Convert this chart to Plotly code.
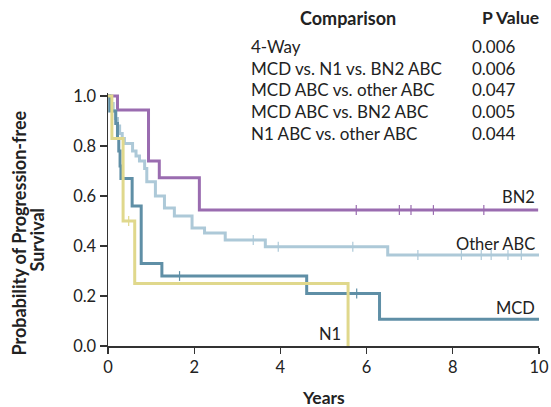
import plotly.graph_objects as go

# ---------------- data ----------------
bn2_times = [0.22, 0.94, 1.19, 2.12]
bn2_surv = [0.944, 0.74, 0.673, 0.544]
bn2_censor = [5.76, 6.76, 7.03, 7.55, 8.72]
bn2_end = 9.98

oth_times = [0.06, 0.12, 0.17, 0.22, 0.27, 0.33, 0.38, 0.57, 0.65, 0.73, 0.85, 0.90,
             1.10, 1.31, 1.54, 1.95, 2.24, 2.72, 3.65, 6.49]
oth_surv = [0.97, 0.94, 0.91, 0.88, 0.85, 0.83, 0.81, 0.78, 0.76, 0.74, 0.71, 0.657,
            0.60, 0.552, 0.52, 0.472, 0.452, 0.424, 0.397, 0.364]
oth_censor = [3.37, 3.95, 5.68, 7.19, 8.20, 8.66, 8.89, 9.28, 9.59]
oth_end = 10.0

mcd_times = [0.04, 0.18, 0.22, 0.25, 0.28, 0.30, 0.56, 0.77, 1.25, 4.61, 6.30]
mcd_surv = [0.94, 0.89, 0.83, 0.78, 0.72, 0.67, 0.56, 0.33, 0.28, 0.21, 0.107]
mcd_censor = [1.66, 5.77]
mcd_end = 10.0

n1_times = [0.09, 0.35, 0.62, 5.57]
n1_surv = [0.83, 0.50, 0.25, 0.0]
n1_censor = [0.48]
n1_end = 5.57

x_ticks = [0, 2, 4, 6, 8, 10]
y_ticks = [0.0, 0.2, 0.4, 0.6, 0.8, 1.0]
y_tick_labels = ["0.0", "0.2", "0.4", "0.6", "0.8", "1.0"]

comparisons = ["4-Way", "MCD vs. N1 vs. BN2 ABC", "MCD ABC vs. other ABC",
               "MCD ABC vs. BN2 ABC", "N1 ABC vs. other ABC"]
p_values = ["0.006", "0.006", "0.047", "0.005", "0.044"]

series = [
    ("BN2", bn2_times, bn2_surv, bn2_censor, bn2_end, "#9a6cb0"),
    ("Other ABC", oth_times, oth_surv, oth_censor, oth_end, "#adc9d8"),
    ("MCD", mcd_times, mcd_surv, mcd_censor, mcd_end, "#5f8fa6"),
    ("N1", n1_times, n1_surv, n1_censor, n1_end, "#e0d88c"),
]


def surv_at(t, times, surv):
    s = 1.0
    for ti, si in zip(times, surv):
        if ti <= t:
            s = si
    return s


FONT = "Lato"
TXT = "#222"
fig = go.Figure()

for name, times, surv, cens, end, color in series:
    xs = [0.0] + times + [end]
    ys = [1.0] + surv + [surv[-1]]
    fig.add_trace(go.Scatter(x=xs, y=ys, mode="lines", line=dict(color=color, width=3, shape="hv"),
                             name=name, showlegend=False, hoverinfo="skip"))
    fig.add_trace(go.Scatter(x=cens, y=[surv_at(c, times, surv) for c in cens], mode="markers",
                             marker=dict(symbol="line-ns", size=7, line=dict(color=color, width=1.2)),
                             showlegend=False, hoverinfo="skip", cliponaxis=False))

# Series labels
labels = [("BN2", 9.95, 0.597), ("Other ABC", 9.95, 0.41),
          ("MCD", 9.95, 0.153), ("N1", 5.46, 0.05)]
for txt, x, y in labels:
    fig.add_annotation(x=x, y=y, xref="x", yref="y", text=txt, showarrow=False,
                       xanchor="right", yanchor="middle", font=dict(family=FONT, size=16.5, color=TXT))

W, H = 551, 407
L, R, T, B = 108, 12, 93, 61
pw, ph = W - L - R, H - T - B


def px(xp):
    return (xp - L) / pw


def py(yp):
    return (H - B - yp) / ph


def ann(x, y, text, size, xa="center", angle=0):
    fig.add_annotation(x=px(x), y=py(y), xref="paper", yref="paper", text=text, showarrow=False,
                       xanchor=xa, yanchor="middle", textangle=angle,
                       font=dict(family=FONT, size=size, color=TXT))


ann(347.5, 18, "<b>Comparison</b>", 18)
ann(510, 18, "<b>P Value</b>", 17.5)
row_y = [46.7, 68.3, 89.5, 111, 133.3]
for yy, c, p in zip(row_y, comparisons, p_values):
    ann(249, yy, c, 17, xa="left")
    ann(470, yy, p, 17, xa="left")

ann(323, 397, "<b>Years</b>", 17.5)
ann(18.5, 233, "<b>Probability of Progression-free</b>", 18, angle=-90)
ann(36.5, 240, "<b>Survival</b>", 18, angle=-90)

fig.update_layout(
    width=W, height=H,
    margin=dict(l=L, r=R, t=T, b=B, pad=0),
    paper_bgcolor="white", plot_bgcolor="white",
    hovermode=False,
    xaxis=dict(range=[0, 10], tickvals=x_ticks, ticks="outside", ticklen=6, tickwidth=1.3,
               tickcolor="#333", showline=True, linecolor="#333", linewidth=1.5, showgrid=False,
               zeroline=False, automargin=False, tickfont=dict(family=FONT, size=16.5, color=TXT)),
    yaxis=dict(range=[0, 1.012], tickvals=y_ticks, ticktext=y_tick_labels, ticks="outside", ticklen=7,
               tickwidth=1.3, tickcolor="#333", showline=True, linecolor="#333", linewidth=1.5,
               showgrid=False, zeroline=False, automargin=False,
               tickfont=dict(family=FONT, size=16.5, color=TXT)),
)

fig.write_html("out.html",
               config={"displayModeBar": False, "staticPlot": True},
               post_script="document.body.style.margin='0';"
                           "document.documentElement.style.overflow='hidden';")
